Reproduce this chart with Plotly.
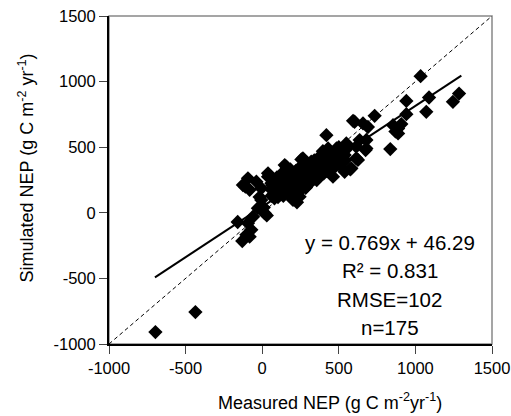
import plotly.graph_objects as go

# ---- data ----
measured = [
    -697, -436, -160, -130, -103, -93, -82, -71, -60, -28, -6, 16, 30, 10, -17,
    -126, -93, -110, -82, -38, -6, 38, 60, 49, 147, 158, 201, 256, 266, 288,
    244, 227, 201, 114, 38, 419, 430, 462, 485, 516, 538, 549, 582, 575, 593,
    603, 614, 614, 625, 636, 658, 675, 680, 680, 690, 734, 836, 854, 870, 887,
    887, 908, 941, 941, 1034, 1071, 1089, 1245, 1285,
    62, 58, 66,
    82, 78, 85, 80,
    98, 104, 101, 96, 103,
    122, 118, 125, 120,
    142, 137, 145, 140, 138,
    161, 158, 165, 162, 156,
    182, 178, 185, 180, 184,
    203, 198, 205, 200, 197,
    222, 218, 225, 220, 224,
    243, 238, 245, 240, 236,
    262, 258, 265, 260, 257,
    283, 278, 285, 280, 284,
    302, 298, 305, 300, 296,
    322, 318, 325, 320,
    342, 338, 345, 340,
    362, 358, 365, 360, 356,
    382, 378, 385, 380,
    402, 398, 405, 400, 396,
    422, 418, 425, 420,
    442, 438, 445,
    462, 458, 465,
    482, 478, 485,
    502, 498, 505, 500,
    522, 518, 525,
    542, 538, 545,
]
simulated = [
    -909, -757, -70, -215, -168, -79, -182, -130, -30, 35, 98, -3, -20, 40, 120,
    212, 263, 199, 175, 237, 187, 275, 225, 275, 364, 351, 275, 407, 415, 199,
    123, 80, 98, 174, 301, 592, 491, 275, 490, 390, 313, 529, 339, 331, 701,
    694, 415, 504, 403, 554, 681, 478, 555, 491, 654, 739, 486, 668, 620, 643,
    605, 676, 853, 752, 1041, 770, 879, 846, 909,
    130, 180, 210,
    150, 200, 250, 110,
    160, 190, 230, 270, 120,
    140, 200, 240, 290,
    170, 210, 250, 300, 130,
    190, 230, 270, 150, 310,
    160, 210, 250, 290, 330,
    180, 220, 260, 300, 140,
    190, 240, 280, 320, 160,
    200, 250, 290, 340, 170,
    210, 260, 300, 350, 180,
    230, 270, 310, 360, 190,
    240, 280, 320, 370, 210,
    250, 300, 340, 390,
    260, 310, 350, 400,
    280, 320, 370, 410, 250,
    290, 340, 380, 430,
    300, 350, 390, 440, 470,
    320, 360, 400, 450,
    330, 380, 420,
    340, 390, 430,
    360, 400, 440,
    370, 410, 450, 500,
    380, 420, 460,
    400, 440, 480,
]

fit_x = [-700, 1300]
slope = 0.769
intercept = 46.29
one_to_one = [-1000, 1500]

stats_lines = ["y = 0.769x + 46.29", "R\u00b2 = 0.831", "RMSE=102", "n=175"]
tick_vals = [-1000, -500, 0, 500, 1000, 1500]
tick_text = ["-1000", "-500", "0", "500", "1000", "1500"]

FONT = "Liberation Sans, Arial, Helvetica, sans-serif"

fig = go.Figure()

fig.add_trace(go.Scatter(
    x=one_to_one, y=one_to_one, mode="lines",
    line=dict(color="black", width=1, dash="4px,3px"),
    showlegend=False, hoverinfo="skip"))

fig.add_trace(go.Scatter(
    x=measured, y=simulated, mode="markers",
    marker=dict(symbol="diamond", size=11, color="black", line=dict(width=0)),
    showlegend=False))

fig.add_trace(go.Scatter(
    x=fit_x, y=[slope * v + intercept for v in fit_x], mode="lines",
    line=dict(color="black", width=2),
    showlegend=False, hoverinfo="skip"))

axis_common = dict(
    range=[-1000, 1500], tickvals=tick_vals, ticktext=tick_text,
    ticks="outside", ticklen=8, tickwidth=1.2, tickcolor="#444",
    showline=True, linecolor="black", linewidth=2,
    showgrid=False, zeroline=False, automargin=False,
    tickfont=dict(family=FONT, size=16.5, color="black"),
)

fig.update_layout(
    width=511, height=416,
    margin=dict(l=109, r=19, t=16, b=72),
    paper_bgcolor="white", plot_bgcolor="white",
    xaxis=dict(**axis_common),
    yaxis=dict(**axis_common),
    shapes=[dict(type="rect", xref="paper", yref="paper", x0=0, y0=0, x1=1, y1=1,
                 line=dict(color="#888", width=1.5), layer="below")],
)

ypos = [0.308, 0.223, 0.135, 0.050]
for txt, yp in zip(stats_lines, ypos):
    fig.add_annotation(text=txt, xref="paper", yref="paper", x=0.733, y=yp,
                       showarrow=False, xanchor="center", yanchor="middle",
                       font=dict(family=FONT, size=20.5, color="black"))

fig.add_annotation(text="Measured NEP (g C m<sup>-2</sup>yr<sup>-1</sup>)",
                   xref="paper", yref="paper", x=0.576, y=-0.176,
                   showarrow=False, xanchor="center", yanchor="middle",
                   font=dict(family=FONT, size=18, color="black"))
fig.add_annotation(text="Simulated NEP (g C m<sup>-2</sup> yr<sup>-1</sup>)",
                   xref="paper", yref="paper", x=-0.215, y=0.537,
                   showarrow=False, xanchor="center", yanchor="middle",
                   textangle=-90,
                   font=dict(family=FONT, size=18, color="black"))

fig.write_html(
    "out.html",
    config={"responsive": False, "displayModeBar": False},
    post_script="document.body.style.margin='0';document.body.style.overflow='hidden';",
)
